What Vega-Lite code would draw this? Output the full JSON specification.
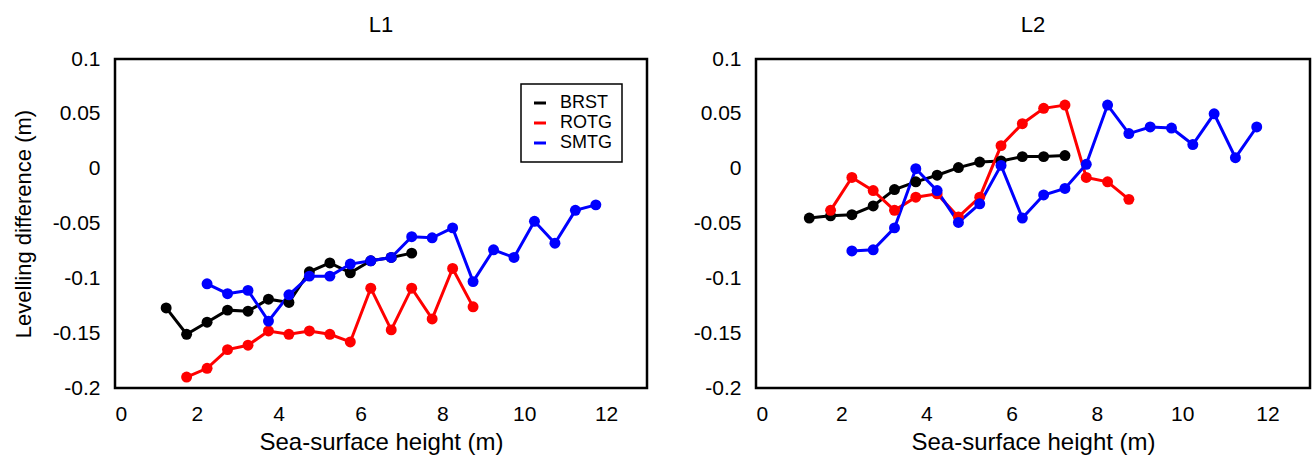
{
  "$schema": "https://vega.github.io/schema/vega-lite/v6.json",
  "padding": {"left": 10, "top": 12, "right": 2, "bottom": 4},
  "background": "white",
  "config": {
    "font": "Liberation Sans",
    "view": {"stroke": "black", "strokeWidth": 2.5},
    "axis": {
      "domain": false,
      "ticks": false,
      "grid": false,
      "labelPadding": 15,
      "labelFontSize": 21,
      "labelColor": "black",
      "titleFontSize": 24,
      "titleFontWeight": "normal",
      "titleColor": "black"
    },
    "title": {"fontSize": 22, "fontWeight": "normal", "color": "black", "offset": 11},
    "legend": {
      "orient": "none",
      "legendX": 406,
      "legendY": 25,
      "fillColor": "white",
      "strokeColor": "black",
      "strokeWidth": 1.5,
      "padding": 10,
      "symbolType": "stroke",
      "symbolStrokeWidth": 3,
      "symbolSize": 144,
      "labelFontSize": 18,
      "labelColor": "black",
      "labelOffset": 11,
      "rowPadding": 2
    }
  },
  "datasets": {
    "xticks": [{"x": 2}, {"x": 4}, {"x": 6}, {"x": 8}, {"x": 10}, {"x": 12}],
    "yticks": [{"y": -0.15}, {"y": -0.1}, {"y": -0.05}, {"y": 0}, {"y": 0.05}],
    "levels": [
      {"panel": "L1", "series": "BRST", "x": 1.25, "y": -0.127},
      {"panel": "L1", "series": "BRST", "x": 1.75, "y": -0.151},
      {"panel": "L1", "series": "BRST", "x": 2.25, "y": -0.140},
      {"panel": "L1", "series": "BRST", "x": 2.75, "y": -0.129},
      {"panel": "L1", "series": "BRST", "x": 3.25, "y": -0.130},
      {"panel": "L1", "series": "BRST", "x": 3.75, "y": -0.119},
      {"panel": "L1", "series": "BRST", "x": 4.25, "y": -0.122},
      {"panel": "L1", "series": "BRST", "x": 4.75, "y": -0.094},
      {"panel": "L1", "series": "BRST", "x": 5.25, "y": -0.086},
      {"panel": "L1", "series": "BRST", "x": 5.75, "y": -0.095},
      {"panel": "L1", "series": "BRST", "x": 6.25, "y": -0.084},
      {"panel": "L1", "series": "BRST", "x": 6.75, "y": -0.081},
      {"panel": "L1", "series": "BRST", "x": 7.25, "y": -0.077},

      {"panel": "L1", "series": "ROTG", "x": 1.75, "y": -0.190},
      {"panel": "L1", "series": "ROTG", "x": 2.25, "y": -0.182},
      {"panel": "L1", "series": "ROTG", "x": 2.75, "y": -0.165},
      {"panel": "L1", "series": "ROTG", "x": 3.25, "y": -0.161},
      {"panel": "L1", "series": "ROTG", "x": 3.75, "y": -0.148},
      {"panel": "L1", "series": "ROTG", "x": 4.25, "y": -0.151},
      {"panel": "L1", "series": "ROTG", "x": 4.75, "y": -0.148},
      {"panel": "L1", "series": "ROTG", "x": 5.25, "y": -0.151},
      {"panel": "L1", "series": "ROTG", "x": 5.75, "y": -0.158},
      {"panel": "L1", "series": "ROTG", "x": 6.25, "y": -0.109},
      {"panel": "L1", "series": "ROTG", "x": 6.75, "y": -0.147},
      {"panel": "L1", "series": "ROTG", "x": 7.25, "y": -0.109},
      {"panel": "L1", "series": "ROTG", "x": 7.75, "y": -0.137},
      {"panel": "L1", "series": "ROTG", "x": 8.25, "y": -0.091},
      {"panel": "L1", "series": "ROTG", "x": 8.75, "y": -0.126},

      {"panel": "L1", "series": "SMTG", "x": 2.25, "y": -0.105},
      {"panel": "L1", "series": "SMTG", "x": 2.75, "y": -0.114},
      {"panel": "L1", "series": "SMTG", "x": 3.25, "y": -0.111},
      {"panel": "L1", "series": "SMTG", "x": 3.75, "y": -0.139},
      {"panel": "L1", "series": "SMTG", "x": 4.25, "y": -0.115},
      {"panel": "L1", "series": "SMTG", "x": 4.75, "y": -0.098},
      {"panel": "L1", "series": "SMTG", "x": 5.25, "y": -0.098},
      {"panel": "L1", "series": "SMTG", "x": 5.75, "y": -0.087},
      {"panel": "L1", "series": "SMTG", "x": 6.25, "y": -0.084},
      {"panel": "L1", "series": "SMTG", "x": 6.75, "y": -0.081},
      {"panel": "L1", "series": "SMTG", "x": 7.25, "y": -0.062},
      {"panel": "L1", "series": "SMTG", "x": 7.75, "y": -0.063},
      {"panel": "L1", "series": "SMTG", "x": 8.25, "y": -0.054},
      {"panel": "L1", "series": "SMTG", "x": 8.75, "y": -0.103},
      {"panel": "L1", "series": "SMTG", "x": 9.25, "y": -0.074},
      {"panel": "L1", "series": "SMTG", "x": 9.75, "y": -0.081},
      {"panel": "L1", "series": "SMTG", "x": 10.25, "y": -0.048},
      {"panel": "L1", "series": "SMTG", "x": 10.75, "y": -0.068},
      {"panel": "L1", "series": "SMTG", "x": 11.25, "y": -0.038},
      {"panel": "L1", "series": "SMTG", "x": 11.75, "y": -0.033},

      {"panel": "L2", "series": "BRST", "x": 1.25, "y": -0.045},
      {"panel": "L2", "series": "BRST", "x": 1.75, "y": -0.043},
      {"panel": "L2", "series": "BRST", "x": 2.25, "y": -0.042},
      {"panel": "L2", "series": "BRST", "x": 2.75, "y": -0.034},
      {"panel": "L2", "series": "BRST", "x": 3.25, "y": -0.019},
      {"panel": "L2", "series": "BRST", "x": 3.75, "y": -0.012},
      {"panel": "L2", "series": "BRST", "x": 4.25, "y": -0.006},
      {"panel": "L2", "series": "BRST", "x": 4.75, "y": 0.001},
      {"panel": "L2", "series": "BRST", "x": 5.25, "y": 0.006},
      {"panel": "L2", "series": "BRST", "x": 5.75, "y": 0.007},
      {"panel": "L2", "series": "BRST", "x": 6.25, "y": 0.011},
      {"panel": "L2", "series": "BRST", "x": 6.75, "y": 0.011},
      {"panel": "L2", "series": "BRST", "x": 7.25, "y": 0.012},

      {"panel": "L2", "series": "ROTG", "x": 1.75, "y": -0.038},
      {"panel": "L2", "series": "ROTG", "x": 2.25, "y": -0.008},
      {"panel": "L2", "series": "ROTG", "x": 2.75, "y": -0.020},
      {"panel": "L2", "series": "ROTG", "x": 3.25, "y": -0.038},
      {"panel": "L2", "series": "ROTG", "x": 3.75, "y": -0.026},
      {"panel": "L2", "series": "ROTG", "x": 4.25, "y": -0.023},
      {"panel": "L2", "series": "ROTG", "x": 4.75, "y": -0.044},
      {"panel": "L2", "series": "ROTG", "x": 5.25, "y": -0.026},
      {"panel": "L2", "series": "ROTG", "x": 5.75, "y": 0.021},
      {"panel": "L2", "series": "ROTG", "x": 6.25, "y": 0.041},
      {"panel": "L2", "series": "ROTG", "x": 6.75, "y": 0.055},
      {"panel": "L2", "series": "ROTG", "x": 7.25, "y": 0.058},
      {"panel": "L2", "series": "ROTG", "x": 7.75, "y": -0.008},
      {"panel": "L2", "series": "ROTG", "x": 8.25, "y": -0.012},
      {"panel": "L2", "series": "ROTG", "x": 8.75, "y": -0.028},

      {"panel": "L2", "series": "SMTG", "x": 2.25, "y": -0.075},
      {"panel": "L2", "series": "SMTG", "x": 2.75, "y": -0.074},
      {"panel": "L2", "series": "SMTG", "x": 3.25, "y": -0.054},
      {"panel": "L2", "series": "SMTG", "x": 3.75, "y": 0.000},
      {"panel": "L2", "series": "SMTG", "x": 4.25, "y": -0.020},
      {"panel": "L2", "series": "SMTG", "x": 4.75, "y": -0.049},
      {"panel": "L2", "series": "SMTG", "x": 5.25, "y": -0.032},
      {"panel": "L2", "series": "SMTG", "x": 5.75, "y": 0.003},
      {"panel": "L2", "series": "SMTG", "x": 6.25, "y": -0.045},
      {"panel": "L2", "series": "SMTG", "x": 6.75, "y": -0.024},
      {"panel": "L2", "series": "SMTG", "x": 7.25, "y": -0.018},
      {"panel": "L2", "series": "SMTG", "x": 7.75, "y": 0.004},
      {"panel": "L2", "series": "SMTG", "x": 8.25, "y": 0.058},
      {"panel": "L2", "series": "SMTG", "x": 8.75, "y": 0.032},
      {"panel": "L2", "series": "SMTG", "x": 9.25, "y": 0.038},
      {"panel": "L2", "series": "SMTG", "x": 9.75, "y": 0.037},
      {"panel": "L2", "series": "SMTG", "x": 10.25, "y": 0.022},
      {"panel": "L2", "series": "SMTG", "x": 10.75, "y": 0.050},
      {"panel": "L2", "series": "SMTG", "x": 11.25, "y": 0.010},
      {"panel": "L2", "series": "SMTG", "x": 11.75, "y": 0.038}
    ]
  },
  "spacing": 42,
  "resolve": {"legend": {"color": "independent"}},
  "hconcat": [
    {
      "title": {"text": "L1", "fontSize": 22},
      "width": 532,
      "height": 329,
      "encoding": {
        "x": {"field": "x", "type": "quantitative", "scale": {"domain": [0, 13], "nice": false},
              "axis": {"values": [0, 2, 4, 6, 8, 10, 12], "title": "Sea-surface height (m)", "titlePadding": 6}},
        "y": {"field": "y", "type": "quantitative", "scale": {"domain": [-0.2, 0.1], "nice": false, "zero": false},
              "axis": {"values": [-0.2, -0.15, -0.1, -0.05, 0, 0.05, 0.1],
                       "labelExpr": "datum.value == 0 ? '0' : (datum.value < 0 ? '-' : '') + format(abs(datum.value), '~g')",
                       "title": "Levelling difference (m)", "titleFontSize": 22, "titlePadding": 17}}
      },
      "layer": [
        {"data": {"name": "xticks"},
         "mark": {"type": "tick", "orient": "vertical", "size": 28, "thickness": 2, "color": "black", "opacity": 1, "clip": true},
         "encoding": {"y": {"datum": -0.2}}},
        {"data": {"name": "xticks"},
         "mark": {"type": "tick", "orient": "vertical", "size": 28, "thickness": 2, "color": "black", "opacity": 1, "clip": true},
         "encoding": {"y": {"datum": 0.1}}},
        {"data": {"name": "yticks"},
         "mark": {"type": "tick", "orient": "horizontal", "size": 28, "thickness": 2, "color": "black", "opacity": 1, "clip": true},
         "encoding": {"x": {"datum": 0}}},
        {"data": {"name": "yticks"},
         "mark": {"type": "tick", "orient": "horizontal", "size": 28, "thickness": 2, "color": "black", "opacity": 1, "clip": true},
         "encoding": {"x": {"datum": 13}}},
        {"data": {"name": "levels"},
         "transform": [{"filter": "datum.panel == 'L1'"}],
         "mark": {"type": "line", "strokeWidth": 3},
         "encoding": {"color": {"field": "series", "type": "nominal",
                      "scale": {"domain": ["BRST", "ROTG", "SMTG"], "range": ["#000000", "#ff0000", "#0000ff"]},
                      "legend": {"title": null}}}},
        {"data": {"name": "levels"},
         "transform": [{"filter": "datum.panel == 'L1'"}],
         "mark": {"type": "circle", "size": 120, "opacity": 1},
         "encoding": {"color": {"field": "series", "type": "nominal", "legend": {"title": null}}}}
      ]
    },
    {
      "title": {"text": "L2", "fontSize": 22},
      "width": 554,
      "height": 329,
      "encoding": {
        "x": {"field": "x", "type": "quantitative", "scale": {"domain": [0, 13], "nice": false},
              "axis": {"values": [0, 2, 4, 6, 8, 10, 12], "title": "Sea-surface height (m)", "titlePadding": 6}},
        "y": {"field": "y", "type": "quantitative", "scale": {"domain": [-0.2, 0.1], "nice": false, "zero": false},
              "axis": {"values": [-0.2, -0.15, -0.1, -0.05, 0, 0.05, 0.1],
                       "labelExpr": "datum.value == 0 ? '0' : (datum.value < 0 ? '-' : '') + format(abs(datum.value), '~g')",
                       "title": null}}
      },
      "layer": [
        {"data": {"name": "xticks"},
         "mark": {"type": "tick", "orient": "vertical", "size": 28, "thickness": 2, "color": "black", "opacity": 1, "clip": true},
         "encoding": {"y": {"datum": -0.2}}},
        {"data": {"name": "xticks"},
         "mark": {"type": "tick", "orient": "vertical", "size": 28, "thickness": 2, "color": "black", "opacity": 1, "clip": true},
         "encoding": {"y": {"datum": 0.1}}},
        {"data": {"name": "yticks"},
         "mark": {"type": "tick", "orient": "horizontal", "size": 28, "thickness": 2, "color": "black", "opacity": 1, "clip": true},
         "encoding": {"x": {"datum": 0}}},
        {"data": {"name": "yticks"},
         "mark": {"type": "tick", "orient": "horizontal", "size": 28, "thickness": 2, "color": "black", "opacity": 1, "clip": true},
         "encoding": {"x": {"datum": 13}}},
        {"data": {"name": "levels"},
         "transform": [{"filter": "datum.panel == 'L2'"}],
         "mark": {"type": "line", "strokeWidth": 3},
         "encoding": {"color": {"field": "series", "type": "nominal",
                      "scale": {"domain": ["BRST", "ROTG", "SMTG"], "range": ["#000000", "#ff0000", "#0000ff"]},
                      "legend": null}}},
        {"data": {"name": "levels"},
         "transform": [{"filter": "datum.panel == 'L2'"}],
         "mark": {"type": "circle", "size": 120, "opacity": 1},
         "encoding": {"color": {"field": "series", "type": "nominal", "legend": null}}}
      ]
    }
  ]
}
